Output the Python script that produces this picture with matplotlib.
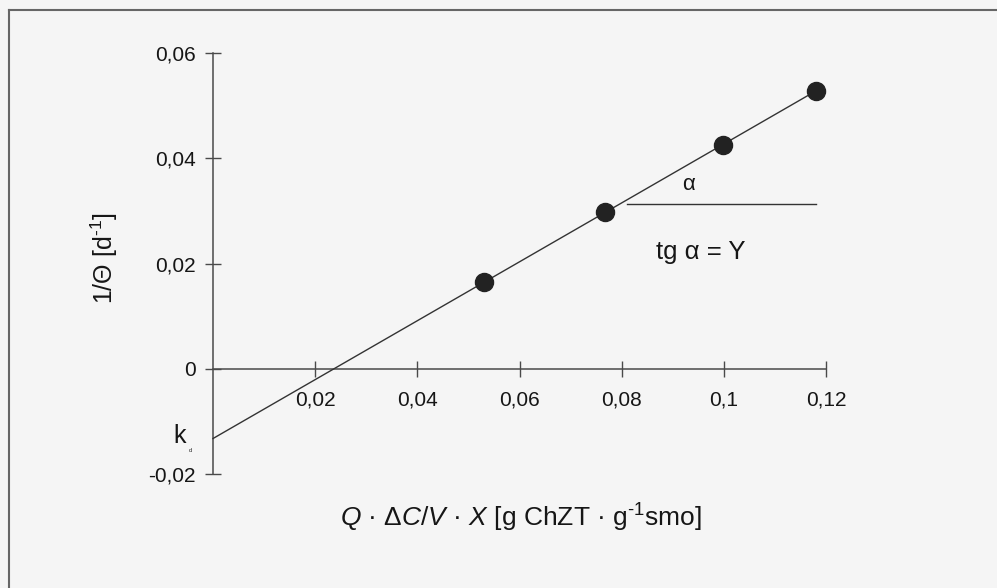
import numpy as np
import matplotlib
matplotlib.use("Agg")
import matplotlib.pyplot as plt
from matplotlib.lines import Line2D

plt.rcParams['font.family'] = ['Liberation Sans', 'DejaVu Sans']
plt.rcParams['mathtext.fontset'] = 'custom'
plt.rcParams['mathtext.rm'] = 'Liberation Sans'
plt.rcParams['mathtext.it'] = 'Liberation Sans:italic'

# data
x_vals = [0.0531, 0.0767, 0.0998, 0.1180]
y_vals = [0.0164, 0.0298, 0.0425, 0.0528]
x_ticks = [0.02, 0.04, 0.06, 0.08, 0.10, 0.12]
x_tick_labels = ['0,02', '0,04', '0,06', '0,08', '0,1', '0,12']
y_ticks = [-0.02, 0.0, 0.02, 0.04, 0.06]
y_tick_labels = ['-0,02', '0', '0,02', '0,04', '0,06']
alpha_ref_y = 0.0313
alpha_ref_x = [0.081, 0.118]

W, H = 997, 588
fig = plt.figure(figsize=(W / 100, H / 100), dpi=100)
bg = '#f5f5f5'
fig.patch.set_facecolor(bg)

ax = fig.add_axes([213 / W, (H - 474) / H, (826 - 213) / W, (474 - 53) / H])
ax.set_facecolor('none')
ax.set_xlim(0, 0.12)
ax.set_ylim(-0.02, 0.06)

axcol = '#4a4a4a'
txtcol = '#161616'
for s in ['top', 'right']:
    ax.spines[s].set_visible(False)
ax.spines['left'].set_position(('data', 0))
ax.spines['bottom'].set_position(('data', 0))
for s in ['left', 'bottom']:
    ax.spines[s].set_color(axcol)
    ax.spines[s].set_linewidth(1.1)

ax.set_xticks(x_ticks)
ax.set_xticklabels(x_tick_labels)
ax.set_yticks(y_ticks)
ax.set_yticklabels(y_tick_labels)
ax.tick_params(axis='both', direction='inout', length=11, width=1.0,
               color=axcol, labelsize=15, labelcolor=txtcol)
ax.tick_params(axis='x', pad=10)
ax.tick_params(axis='y', pad=7)

# regression line from data
coef = np.polyfit(x_vals, y_vals, 1)
xl = np.array([0.0, max(x_vals)])
ax.plot(xl, np.polyval(coef, xl), color='#333333', lw=1.0, clip_on=False, zorder=3)

ax.plot(x_vals, y_vals, 'o', ms=13, color='#222222', clip_on=False, zorder=4)

# alpha reference line
ax.plot(alpha_ref_x, [alpha_ref_y, alpha_ref_y], color='#333333', lw=1.0, zorder=3)
ax.text(0.093, 0.0351, 'α', fontsize=16, ha='center', va='center', color=txtcol)
ax.text(0.0955, 0.0222, 'tg α = Y', fontsize=18.5, ha='center', va='center', color=txtcol)

# k label
fig.text(180 / W, 1 - 436 / H, 'k', fontsize=18, ha='center', va='center', color=txtcol)
fig.text(190 / W, 1 - 451 / H, 'd', fontsize=4, ha='center', va='center', color=txtcol)

# axis labels
fig.text(521 / W, 1 - 518 / H,
         r'$\mathit{Q}$ · $\mathit{\Delta C/V}$ · $\mathit{X}$ [g ChZT · g$^{\text{-}1}$smo]',
         fontsize=19, ha='center', va='center', color=txtcol)
fig.text(104 / W, 1 - 258 / H, r'1/Θ [d$^{\text{-}1}$]', fontsize=18, rotation=90,
         ha='center', va='center', color=txtcol)

# outer frame lines (scanned page box)
fig.add_artist(Line2D([9 / W, 1.0], [1 - 10 / H, 1 - 10 / H], transform=fig.transFigure,
                      color='#666666', lw=1.5))
fig.add_artist(Line2D([9 / W, 9 / W], [0.0, 1 - 10 / H], transform=fig.transFigure,
                      color='#666666', lw=1.5))

fig.savefig('out.png', dpi=100, facecolor=bg)
